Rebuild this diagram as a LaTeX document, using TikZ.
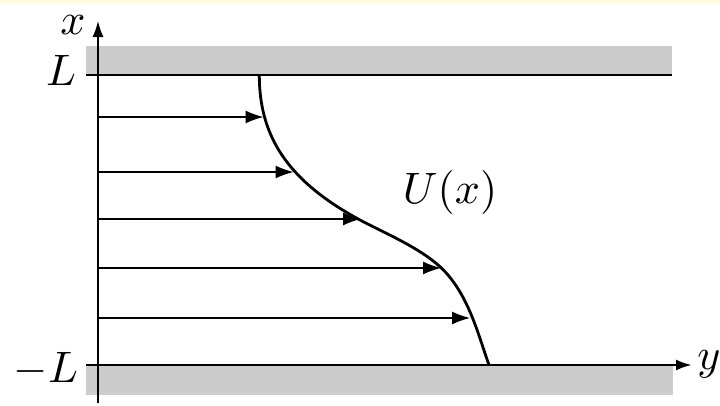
\documentclass[tikz,border=0pt]{standalone}
\usetikzlibrary{arrows.meta}
\begin{document}
\begin{tikzpicture}[x=1pt,y=-1pt,
  wall/.style={fill=black!20,draw=none},
  flowarrow/.style={line width=1.3pt,-{Latex[length=18pt,width=13pt]}},
  axisline/.style={line width=1.5pt},
  lbl/.style={inner sep=0pt,anchor=base,scale=4.4}]
\useasboundingbox (0,0) rectangle (720,405);
\fill[white] (0,0) rectangle (720,405);
\fill[yellow!15] (0,0) rectangle (720,3);
% walls
\fill[wall] (86,46) rectangle (672,75);
\fill[wall] (86,365) rectangle (673,395);
\draw[line width=2pt] (86,75) -- (672,75);
% axes
\coordinate (yo) at (86,365);
\coordinate (yend) at (692,365);
\coordinate (xo) at (98,403);
\coordinate (xend) at (98,21);
\draw[axisline,-{Latex[length=16pt,width=11pt]}] (xo) -- (xend);
\draw[line width=2.6pt,-{Latex[length=16pt,width=11pt]}] (yo) -- (yend);
% labels
\node[lbl] (xl) at (73,34) {$x$};
\node[lbl] (yl) at (709,369) {$y$};
\node[lbl] (Ltop) at (61,85) {$L$};
\node[lbl] (Lbot) at (46,382) {$-L$};
\node[lbl] (Ul) at (450,203) {$U(x)$};
% profile
\coordinate (c0) at (259.3,75);
\coordinate (c1) at (263.5,117);
\coordinate (c2) at (293.5,172);
\coordinate (c3) at (360,220);
\coordinate (c4) at (440,266.7);
\coordinate (c5) at (470,318);
\coordinate (c6) at (489,365);
\draw[line width=2.8pt] (c0) .. controls (259.3,135) and (286,180) .. (c3)
  .. controls (382.2,232) and (418.2,246.7) .. (c4)
  .. controls (468.3,292.7) and (478.2,335) .. (c6);
% arrows
\coordinate (a1) at (98,117);
\coordinate (a2) at (98,172);
\coordinate (a3) at (98,219);
\coordinate (a4) at (98,268);
\coordinate (a5) at (98,318);
\coordinate (t3) at (361,219);
\coordinate (t4) at (441,268);
\draw[flowarrow] (a1) -- (c1);
\draw[flowarrow] (a2) -- (c2);
\draw[flowarrow] (a3) -- (t3);
\draw[flowarrow] (a4) -- (t4);
\draw[flowarrow] (a5) -- (c5);
\end{tikzpicture}
\end{document}
